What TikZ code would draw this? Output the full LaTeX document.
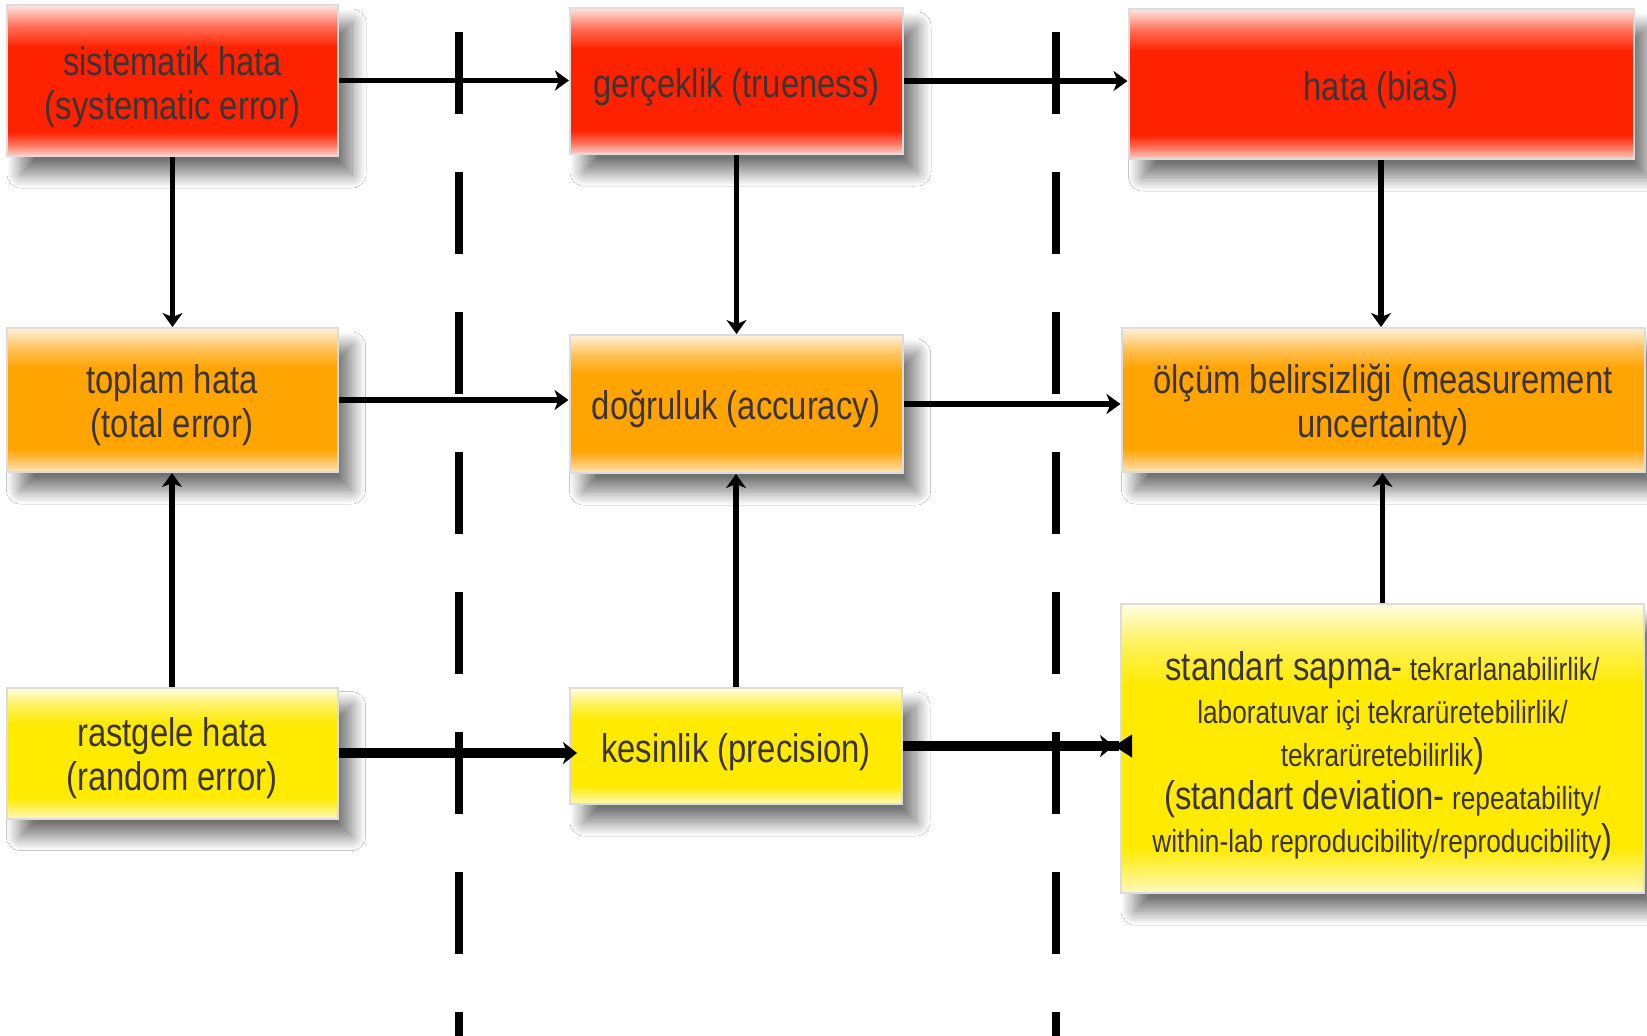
\documentclass[tikz,border=0pt]{standalone}
\usepackage{fontspec}
\setmainfont{Liberation Sans}[FakeStretch=0.82]
\usetikzlibrary{arrows.meta,shadows.blur}
\definecolor{redc}{HTML}{FF2200}
\definecolor{redtop}{HTML}{FFE6E2}
\definecolor{redlt}{HTML}{FFD2CA}
\definecolor{redmid}{HTML}{FF6E58}
\definecolor{orc}{HTML}{FFA400}
\definecolor{ortop}{HTML}{FFF2DE}
\definecolor{orlt}{HTML}{FFE6BE}
\definecolor{ormid}{HTML}{FFC25A}
\definecolor{yec}{HTML}{FFEA00}
\definecolor{yetop}{HTML}{FFFCE4}
\definecolor{yelt}{HTML}{FFF8C0}
\definecolor{yemid}{HTML}{FFF25A}
\definecolor{txt}{HTML}{3C3434}
\definecolor{edgec}{HTML}{DCDCDC}
\pgfdeclareverticalshading{redsh}{100bp}{color(0bp)=(redlt); color(25bp)=(redlt); color(29bp)=(redmid); color(33bp)=(redc); color(61bp)=(redc); color(68bp)=(redmid); color(75bp)=(redtop); color(100bp)=(redtop)}
\pgfdeclareverticalshading{orsh}{100bp}{color(0bp)=(orlt); color(25bp)=(orlt); color(29bp)=(ormid); color(33bp)=(orc); color(61bp)=(orc); color(68bp)=(ormid); color(75bp)=(ortop); color(100bp)=(ortop)}
\pgfdeclareverticalshading{yesh}{100bp}{color(0bp)=(yelt); color(25bp)=(yelt); color(29bp)=(yemid); color(33bp)=(yec); color(61bp)=(yec); color(68bp)=(yemid); color(75bp)=(yetop); color(100bp)=(yetop)}
\tikzset{
  box/.style={inner sep=0pt, draw=edgec, line width=1pt,
    blur shadow={shadow xshift=7pt, shadow yshift=-9pt, shadow blur radius=7pt, shadow blur steps=24, shadow opacity=55}},
  redbox/.style={box, shade, shading=redsh},
  orbox/.style={box, shade, shading=orsh},
  yebox/.style={box, shade, shading=yesh},
  boxtext/.style={inner sep=0pt, align=center, text=txt, font=\fontsize{20}{22}\selectfont},
  conn/.style={line width=2.8pt, -{Stealth[length=7pt,width=10pt,inset=2pt]}},
  thickconn/.style={line width=5pt, -{Stealth[length=7pt,width=11pt,inset=2pt]}},
  sepline/.style={line width=4pt, dash pattern=on 41pt off 29pt}
}
\begin{document}
\begin{tikzpicture}[x=0.5pt,y=-0.5pt]
\useasboundingbox (0,0) rectangle (1647,1035);
\fill[white] (0,0) rectangle (1647,1035);

% separator dashed lines
\coordinate (d1a) at (459,31.7);
\coordinate (d1b) at (459,1040);
\coordinate (d2a) at (1056,31.7);
\coordinate (d2b) at (1056,1040);
\draw[sepline] (d1a) -- (d1b);
\draw[sepline] (d2a) -- (d2b);

% boxes
\node[redbox, minimum width=165.5pt, minimum height=75.5pt] (s1) at (172.5,80.5) {};
\node[redbox, minimum width=166.5pt, minimum height=73pt] (r2) at (736.5,81) {};
\node[redbox, minimum width=252.5pt, minimum height=75pt] (r3) at (1381,84) {};
\node[orbox, minimum width=165.5pt, minimum height=72pt] (o1) at (172,400) {};
\node[orbox, minimum width=166.5pt, minimum height=69pt] (o2) at (736,404) {};
\node[orbox, minimum width=261.5pt, minimum height=72pt] (o3) at (1383,400) {};
\node[yebox, minimum width=165.5pt, minimum height=65.5pt] (y1) at (172,753) {};
\node[yebox, minimum width=166pt, minimum height=58pt] (y2) at (736,746) {};
\node[yebox, minimum width=261.5pt, minimum height=144.5pt] (y3) at (1382.5,748.5) {};

% texts
\node[boxtext] (s1t) at ([yshift=-3.2pt]s1.center) {sistematik hata\\(systematic error)};
\node[boxtext] (r2t) at ([yshift=-3pt]r2.center) {gerçeklik (trueness)};
\node[boxtext] (r3t) at ([yshift=-3pt]r3.center) {hata (bias)};
\node[boxtext] (o1t) at ([yshift=-2.4pt]o1.center) {toplam hata\\(total error)};
\node[boxtext] (o2t) at ([yshift=-2.2pt]o2.center) {doğruluk (accuracy)};
\node[boxtext] (o3t) at ([yshift=-2.6pt]o3.center) {ölçüm belirsizliği (measurement\\uncertainty)};
\node[boxtext] (y1t) at ([yshift=-2.8pt]y1.center) {rastgele hata\\(random error)};
\node[boxtext] (y2t) at ([yshift=-3pt]y2.center) {kesinlik (precision)};
\node[boxtext, font=\fontsize{16}{21.5}\selectfont] (y3t) at ([yshift=-3.8pt]y3.center)
  {{\fontsize{20}{21.5}\selectfont standart sapma-} tekrarlanabilirlik/\\
   laboratuvar içi tekrarüretebilirlik/\\
   tekrarüretebilirlik{\fontsize{20}{21.5}\selectfont)}\\
   {\fontsize{20}{21.5}\selectfont (standart deviation-} repeatability/\\
   within-lab reproducibility/reproducibility{\fontsize{20}{21.5}\selectfont)}};

% horizontal connectors
\draw[conn] (s1.east) -- (s1.east -| r2.west);
\draw[conn] (r2.east) -- (r2.east -| r3.west);
\draw[conn] (o1.east) -- (o1.east -| o2.west);
\draw[conn] (o2.east) -- (o2.east -| o3.west);
\draw[thickconn] (y1.east) -- ([xshift=4pt]y1.east -| y2.west);
\draw[line width=5pt, -{Stealth[length=7pt,width=11pt,inset=2pt] Triangle[reversed,length=9pt,width=11pt,sep=2pt]}] (y2.east) -- ([xshift=8pt]y2.east -| y3.west);

% vertical connectors
\draw[conn] (s1.south) -- (s1.south |- o1.north);
\draw[conn] (r2.south) -- (r2.south |- o2.north);
\draw[conn] (r3.south) -- (r3.south |- o3.north);
\draw[conn] (y1.north) -- (y1.north |- o1.south);
\draw[conn] (y2.north) -- (y2.north |- o2.south);
\draw[conn] (y3.north) -- (y3.north |- o3.south);
\end{tikzpicture}
\end{document}
